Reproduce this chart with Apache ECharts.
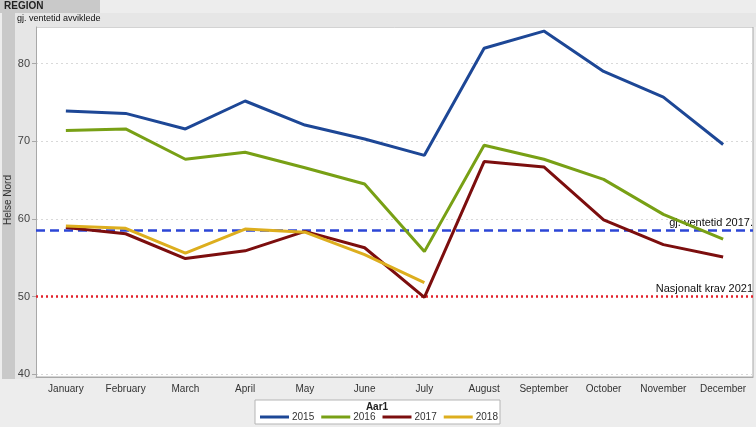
<!DOCTYPE html>
<html><head><meta charset="utf-8">
<script src="https://cdn.jsdelivr.net/npm/echarts@6/dist/echarts.min.js"></script>
<style>html,body{margin:0;padding:0;background:#ededed;}#c{width:756px;height:427px;}</style>
</head><body><div id="c"></div>
<script>
var months = ['January','February','March','April','May','June','July','August','September','October','November','December'];
var yTicks = [40, 50, 60, 70, 80];
var v2015 = [73.9, 73.6, 71.6, 75.2, 72.1, 70.3, 68.2, 82.0, 84.2, 79.0, 75.7, 69.6];
var v2016 = [71.4, 71.6, 67.7, 68.6, 66.6, 64.5, 55.8, 69.5, 67.7, 65.1, 60.6, 57.4];
var v2017 = [58.9, 58.1, 54.9, 55.9, 58.4, 56.3, 49.9, 67.4, 66.7, 59.9, 56.7, 55.1];
var v2018 = [59.1, 58.8, 55.6, 58.7, 58.3, 55.4, 51.8];
var refAvg2017 = 58.5;
var refKrav2021 = 50;
var seriesNames = ['2015','2016','2017','2018'];
var colors = ['#1d4796','#78a015','#7c0e0e','#ddae1e'];

var font = 'Liberation Sans, Arial, sans-serif';
var chart = echarts.init(document.getElementById('c'), null, {renderer:'canvas'});
function line(name, data, color, extra) {
  var s = {name:name, type:'line', data:data, symbol:'none', smooth:false,
    lineStyle:{width:3, color:color}, itemStyle:{color:color}, z:3};
  if (extra) for (var k in extra) s[k] = extra[k];
  return s;
}
var option = {
  backgroundColor:'#ededed',
  animation:false,
  textStyle:{fontFamily:font},
  grid:{left:36, right:3, top:27, bottom:50, show:true, backgroundColor:'#ffffff', borderColor:'#a8a8a8', borderWidth:1},
  xAxis:{type:'category', data:months, boundaryGap:true,
    axisLine:{lineStyle:{color:'#a8a8a8'}},
    axisTick:{alignWithLabel:true, length:4, lineStyle:{color:'#a8a8a8'}},
    axisLabel:{color:'#333', fontSize:10, fontFamily:font, margin:7, interval:0},
    splitLine:{show:false}},
  yAxis:{type:'value', min:39.65, max:84.73,
    axisLine:{show:true, lineStyle:{color:'#a8a8a8'}},
    axisTick:{show:true, length:4, lineStyle:{color:'#a8a8a8'}, customValues:yTicks},
    axisLabel:{color:'#444', fontSize:11, fontFamily:font, margin:6, customValues:yTicks},
    splitLine:{show:true, lineStyle:{color:'#d9d9d9', type:[2,3], width:1}, customValues:yTicks},
    interval:10},
  legend:{data:seriesNames, left:255, top:407, itemWidth:29, itemHeight:3, itemGap:7,
    icon:'rect', textStyle:{color:'#333', fontSize:10, fontFamily:font, padding:[0,0,0,-2]}},
  graphic:[
    {type:'rect', shape:{x:0,y:0,width:100,height:13}, style:{fill:'#c9c9c9'}, z:0},
    {type:'text', left:4, top:1, style:{text:'REGION', font:'bold 10px '+font, fill:'#222'}},
    {type:'rect', shape:{x:15,y:13,width:741,height:14}, style:{fill:'#e6e6e6'}, z:0},
    {type:'text', left:17, top:14, style:{text:'gj. ventetid avviklede', font:'9px '+font, fill:'#111'}},
    {type:'rect', shape:{x:2,y:13,width:13,height:366}, style:{fill:'#c9c9c9'}, z:0},
    {type:'rect', shape:{x:15,y:27,width:21,height:352}, style:{fill:'#e6e6e6'}, z:0},
    {type:'text', x:8, y:200, rotation:Math.PI/2, style:{text:'Helse Nord', font:'10px '+font, fill:'#333', align:'center', verticalAlign:'middle'}},
    {type:'rect', shape:{x:255,y:400,width:245,height:24}, style:{fill:'#ffffff', stroke:'#b5b5b5', lineWidth:1}, z:0},
    {type:'text', x:377, y:402, style:{text:'Aar1', font:'bold 10px '+font, fill:'#222', align:'center'}}
  ],
  series:[
    line('2015', v2015, colors[0], {markLine:{silent:true, symbol:'none', z:2,
      data:[{yAxis:refAvg2017, lineStyle:{color:'#2c46d6', type:[9,5], width:2.5},
              label:{show:true, position:'insideEndTop', formatter:'gj. ventetid 2017.', color:'#111', fontSize:11, fontFamily:font, distance:[0,2]}},
            {yAxis:refKrav2021, lineStyle:{color:'#e4222a', type:[2,3], width:2.5},
              label:{show:true, position:'insideEndTop', formatter:'Nasjonalt krav 2021', color:'#111', fontSize:11, fontFamily:font, distance:[0,2]}}]}}),
    line('2016', v2016, colors[1]),
    line('2017', v2017, colors[2]),
    line('2018', v2018, colors[3])
  ]
};
chart.setOption(option);
</script></body></html>
